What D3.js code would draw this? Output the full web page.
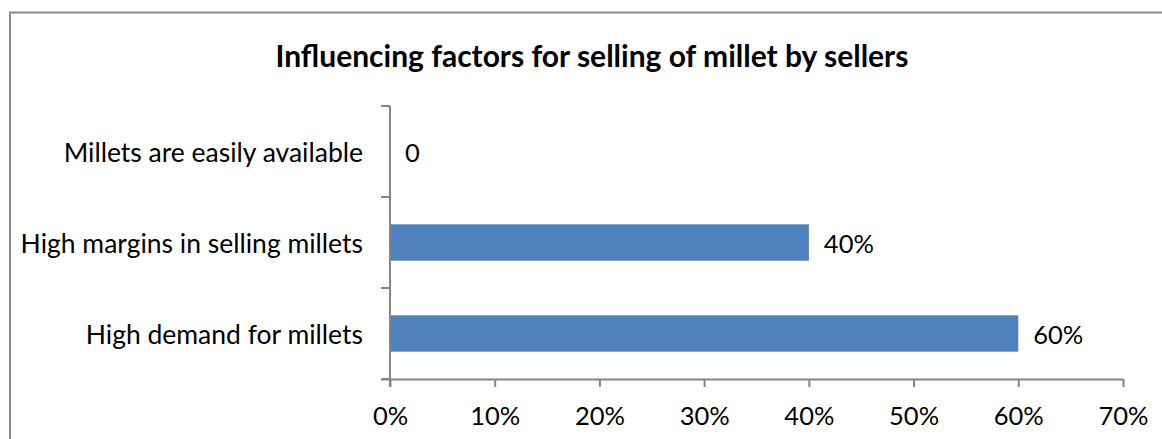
<!DOCTYPE html>
<html>
<head>
<meta charset="utf-8">
<script src="https://cdn.jsdelivr.net/npm/d3@7/dist/d3.min.js"></script>
<style>
  html, body { margin: 0; padding: 0; background: #fff; }
  svg { display: block; }
  text { font-family: Lato, "Open Sans", sans-serif; fill: #000; }
</style>
</head>
<body>
<svg id="chart" width="1162" height="439"></svg>
<script>
const chartTitle = "Influencing factors for selling of millet by sellers";
const categories = ["Millets are easily available", "High margins in selling millets", "High demand for millets"];
const values = [0, 0.40, 0.60];
const valueLabels = ["0", "40%", "60%"];
const xTicks = [0, 0.1, 0.2, 0.3, 0.4, 0.5, 0.6, 0.7];

const svg = d3.select("#chart");
const W = 1162, H = 439;
const plot = { left: 390, right: 1123, top: 106, bottom: 379 };
const axisColor = "#868686";
const barColor = "#4F81BD";
const labelSize = "25.5px";

// chart frame (left and top edges)
svg.append("path")
  .attr("d", `M10,${H} V12.5 H${W}`)
  .attr("fill", "none")
  .attr("stroke", "#8c8c8c")
  .attr("stroke-width", 2);

svg.append("text")
  .attr("x", 592).attr("y", 55)
  .attr("text-anchor", "middle")
  .attr("dominant-baseline", "central")
  .style("font-weight", "bold")
  .style("font-size", "30px")
  .text(chartTitle);

const x = d3.scaleLinear().domain([0, 0.7]).range([plot.left, plot.right]);
const y = d3.scaleBand().domain(categories).range([plot.top, plot.bottom]).paddingInner(0.6).paddingOuter(0.3);
const yBand = d3.scaleBand().domain(categories).range([plot.top, plot.bottom]);

// bars
svg.append("g").selectAll("rect")
  .data(values)
  .join("rect")
  .attr("x", x(0))
  .attr("y", (d, i) => y(categories[i]))
  .attr("width", d => x(d) - x(0))
  .attr("height", y.bandwidth())
  .attr("fill", barColor);

// value labels
svg.append("g").selectAll("text")
  .data(values)
  .join("text")
  .attr("x", d => x(d) + 15)
  .attr("y", (d, i) => yBand(categories[i]) + yBand.bandwidth() / 2)
  .attr("dominant-baseline", "central")
  .style("font-size", labelSize)
  .text((d, i) => valueLabels[i]);

// y axis: line with boundary ticks between categories
const yAxis = svg.append("g").attr("stroke", axisColor).attr("stroke-width", 2);
yAxis.append("line").attr("x1", plot.left).attr("x2", plot.left).attr("y1", plot.top).attr("y2", plot.bottom + 8);
const boundaries = categories.map(c => yBand(c)).concat([plot.bottom]);
yAxis.selectAll("line.tick").data(boundaries).join("line").attr("class", "tick")
  .attr("x1", plot.left - 9).attr("x2", plot.left).attr("y1", d => d).attr("y2", d => d);

// category labels
svg.append("g").selectAll("text")
  .data(categories)
  .join("text")
  .attr("x", 363)
  .attr("y", d => yBand(d) + yBand.bandwidth() / 2)
  .attr("text-anchor", "end")
  .attr("dominant-baseline", "central")
  .style("font-size", "26.5px")
  .text(d => d);

// x axis
const xAxis = d3.axisBottom(x).tickValues(xTicks).tickFormat(d3.format(".0%")).tickSize(8).tickSizeOuter(0);
const gx = svg.append("g").attr("transform", `translate(0,${plot.bottom})`).call(xAxis);
gx.select(".domain").attr("stroke", axisColor).attr("stroke-width", 2).attr("d", `M${plot.left - 9},0.5H${plot.right}`);
gx.selectAll(".tick line").attr("stroke", axisColor).attr("stroke-width", 2);
gx.selectAll(".tick text")
  .attr("y", 36)
  .attr("dy", null)
  .attr("dominant-baseline", "central")
  .style("font-family", "Lato, sans-serif")
  .style("font-size", labelSize)
  .attr("fill", "#000");
</script>
</body>
</html>
